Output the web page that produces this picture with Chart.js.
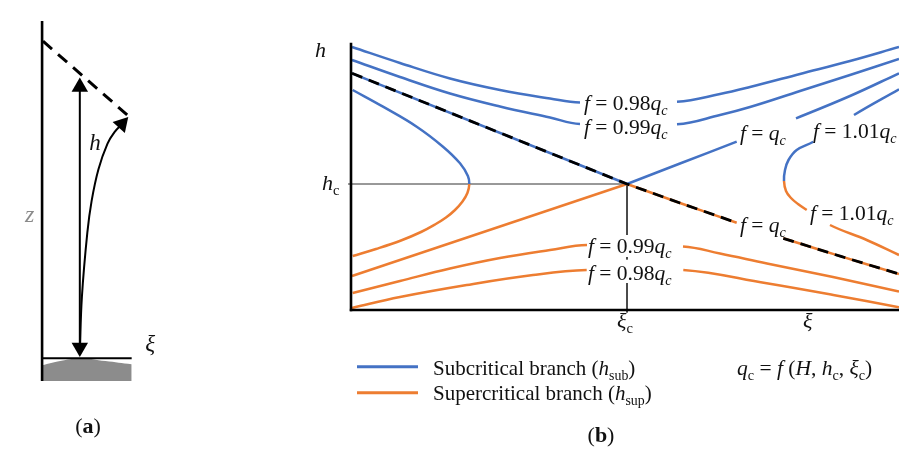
<!DOCTYPE html>
<html><head><meta charset="utf-8">
<script src="https://cdn.jsdelivr.net/npm/chart.js@4.4.1/dist/chart.umd.min.js"></script>
<style>
html,body{margin:0;padding:0;background:#fff;}
#wrap{position:relative;width:899px;height:450px;background:#fff;}
canvas{position:absolute;left:0;top:0;}
</style></head><body>
<div id="wrap"><canvas id="b" width="899" height="450"></canvas><canvas id="a" width="200" height="450"></canvas></div>
<script>
// ---------- DATA (panel b: x = distance along ξ, y = depth h; arbitrary units) ----------
const HC = 126;            // critical depth h_c
const XIC = 276;           // critical position ξ_c
const sub098 = [[1,263],[49,247],[99,231.5],[149,220],[199,211.5],[229,207.5],[326,208.3],[369,216],[399,223],[449,236],[499,249],[548,263]];
const sub098Gaps = [5];
const sub099 = [[1,250],[49,233],[99,216.5],[149,203.5],[199,192.5],[229,186],[326,185.7],[369,195],[399,203],[449,219],[499,235],[548,251]];
const sub099Gaps = [5];
const subCritA = [[1,236.7],[276,126]];
const subCritB = [[276,126],[329,146.5],[385.7,168.3],[445,191.7],[499,214],[548,236.7]];
const subCritBGaps = [2];
const supCritA = [[1,34],[276,126]];
const supCritB = [[276,126],[329,107],[385.7,87.3],[432.3,71.7],[490,53.6],[548,36]];
const supCritBGaps = [2];
const critDash = [[1,236.7],[276,126],[329,107],[385.7,87.3],[432.3,71.7],[490,53.6],[548,36]];
const critDashGaps = [3];
const left101 = [[1.7,220],[32,203.3],[65.7,183.3],[92,163.3],[109,146.7],[116.9,134],[118.3,126],[116.4,117],[111.5,108.5],[104,100],[95,92.5],[84,85.5],[70,78],[50,69.5],[25,61],[1.7,54]];
const left101Nose = 126;
const right101 = [[548,220.7],[503,195],[462.3,168.3],[445.7,160],[437.5,150],[434,140],[433,129],[435,119],[440,112],[447,106],[455.7,100],[479,85],[515.7,70],[548,55]];
const right101Gaps = [1,10];
const right101Nose = 129;
const sup099 = [[1.7,17],[49,29],[99,41.5],[149,52],[199,60],[236,65],[332,63.5],[369,56.5],[416,46.5],[482,33],[548,18.5]];
const sup099Gaps = [5];
const sup098 = [[1,2],[49,13],[115.7,25],[182,35],[235.7,40],[332.3,40],[415.7,26.7],[482.3,15],[548,2.7]];
const sup098Gaps = [4];

// panel (a) data: x = horizontal, y = height z above bed line
const bedProfile = [[0,-7.5],[20,-3],[42,0],[70,-3],[99,-6.5]];
const surfaceDash = [[1,331],[94,254]];
const depthArrow = [[41.7,283],[41.7,11]];
const profileCurve = [[41.7,5],[44,64],[50,131],[54.7,164],[62.3,197.3],[72.3,224],[80,236],[88.2,244.4]];
const arrowHeads = [[41.7,283,0],[41.7,11,180],[88.2,244.4,42]];

const BLUE = '#4472C4', ORANGE = '#ED7D31';
const FONT = '"Liberation Serif","Times New Roman",serif';

const fq = (r) => r === null ? [['f','i'],[' = '],['q','i'],['c','is']] : [['f','i'],[' = ' + r],['q','i'],['c','is']];
const curveLabels = [
  {x:233, y:200, parts:fq('0.98'), size:21.5},
  {x:233, y:176, parts:fq('0.99'), size:21.5},
  {x:389, y:170, parts:fq(null), size:21.5},
  {x:462, y:172, parts:fq('1.01'), size:21.5},
  {x:459, y:90.5, parts:fq('1.01'), size:21.5},
  {x:389, y:78.5, parts:fq(null), size:21.5},
  {x:237, y:57, parts:fq('0.99'), size:21.5},
  {x:237, y:30, parts:fq('0.98'), size:21.5}
];
const axisLabels = [
  {x:-36, y:253.3, parts:[['h','i']], size:22},
  {x:-29, y:120, parts:[['h','i'],['c','s']], size:22},
  {x:266, y:-18, parts:[['ξ','i'],['c','s']], size:22},
  {x:452, y:-18, parts:[['ξ','i']], size:22},
  {x:82, y:-65, parts:[['Subcritical branch ('],['h','i'],['sub','s'],[')']], size:21},
  {x:82, y:-90, parts:[['Supercritical branch ('],['h','i'],['sup','s'],[')']], size:21},
  {x:386, y:-65, parts:[['q','i'],['c','s'],[' = '],['f','i'],[' ('],['H','i'],[', '],['h','i'],['c','s'],[', '],['ξ','i'],['c','s'],[')']], size:21.5},
  {x:250, y:-131.7, parts:[['('],['b','b'],[')']], size:22, align:'center'}
];
const labelsA = [
  {x:52, y:217, parts:[['h','i']], size:23},
  {x:-19, y:142, parts:[['z','i']], size:24, color:'#8a8a8a'},
  {x:114, y:7, parts:[['ξ','i']], size:23},
  {x:50.7, y:-77.7, parts:[['('],['a','b'],[')']], size:22, align:'center'}
];

// ---------- helpers ----------
const pts = a => a.map(([x,y]) => ({x, y}));
function drawRich(ctx, x, y, parts, size, align, color) {
  const fontOf = st => (st.includes('i') ? 'italic ' : '') + (st.includes('b') ? 'bold ' : '') + (st.includes('s') ? size*0.66 : size) + 'px ' + FONT;
  let w = 0;
  parts.forEach(([t, st='']) => { ctx.font = fontOf(st); w += ctx.measureText(t).width; });
  let cx = align === 'center' ? x - w/2 : x;
  ctx.textAlign = 'left'; ctx.textBaseline = 'alphabetic';
  parts.forEach(([t, st='']) => {
    ctx.font = fontOf(st); ctx.fillStyle = color || '#111';
    ctx.fillText(t, cx, st.includes('s') ? y + size*0.24 : y);
    cx += ctx.measureText(t).width;
  });
}
const textPlugin = (labels) => ({
  id:'txt',
  afterDatasetsDraw(chart) {
    const ctx = chart.ctx, xs = chart.scales.x, ys = chart.scales.y;
    ctx.save();
    labels.forEach(l => drawRich(ctx, xs.getPixelForValue(l.x), ys.getPixelForValue(l.y), l.parts, l.size, l.align, l.color));
    ctx.restore();
  }
});
function line(data, color, width, o = {}) {
  const gaps = o.gaps || [], split = o.split;
  return Object.assign({
    data: pts(data), showLine:true, borderColor:color, borderWidth:width, pointRadius:0, clip:false,
    tension: o.tension !== undefined ? o.tension : 0.4, order: o.order !== undefined ? o.order : 5,
    segment: { borderColor: ctx => {
      if (gaps.includes(ctx.p0DataIndex)) return 'rgba(0,0,0,0)';
      if (split !== undefined) return Math.min(ctx.p0.parsed.y, ctx.p1.parsed.y) >= split - 0.01 ? BLUE : ORANGE;
      return undefined;
    } }
  }, o.extra || {});
}
const baseOpts = (padding, xr, yr) => ({
  responsive:false, animation:false, events:[],
  layout:{padding},
  scales:{ x:{type:'linear', min:xr[0], max:xr[1], display:false}, y:{type:'linear', min:yr[0], max:yr[1], display:false} },
  plugins:{ legend:{display:false}, tooltip:{enabled:false} },
  elements:{ point:{radius:0}, line:{borderCapStyle:'butt'} }
});

// ---------- panel (b) ----------
new Chart(document.getElementById('b'), {
  type:'scatter',
  data:{ datasets:[
    line(critDash, '#000', 2.8, {gaps:critDashGaps, tension:0, order:0, extra:{borderDash:[11,7]}}),
    line(sub098, BLUE, 2.5, {gaps:sub098Gaps}),
    line(sub099, BLUE, 2.5, {gaps:sub099Gaps}),
    line(subCritA, BLUE, 2.5, {tension:0}),
    line(subCritB, BLUE, 2.5, {gaps:subCritBGaps}),
    line(supCritA, ORANGE, 2.5, {tension:0}),
    line(supCritB, ORANGE, 2.5, {gaps:supCritBGaps}),
    line(left101, BLUE, 2.5, {split:left101Nose}),
    line(right101, BLUE, 2.5, {gaps:right101Gaps, split:right101Nose}),
    line(sup099, ORANGE, 2.5, {gaps:sup099Gaps}),
    line(sup098, ORANGE, 2.5, {gaps:sup098Gaps}),
    line([[-3,HC],[XIC,HC]], '#333', 1, {tension:0, order:8}),
    line([[XIC,HC],[XIC,75],[XIC,53],[XIC,50.5],[XIC,27],[XIC,-2.5]], '#333', 1, {gaps:[1,3], tension:0, order:8}),
    line([[0,267.3],[0,-1.2]], '#000', 2.6, {tension:0, order:1}),
    line([[-1.2,0],[548,0]], '#000', 2.6, {tension:0, order:1}),
    line([[6,-56.7],[67,-56.7]], BLUE, 3, {tension:0}),
    line([[6,-82.7],[67,-82.7]], ORANGE, 3, {tension:0})
  ]},
  options: baseOpts({left:351, right:0, top:40, bottom:140}, [0,548], [0,270]),
  plugins:[textPlugin(curveLabels.concat(axisLabels))]
});

// ---------- panel (a) ----------
new Chart(document.getElementById('a'), {
  type:'scatter',
  data:{ datasets:[
    line([[0,352],[0,-24]], '#000', 2.6, {tension:0, order:1}),
    line([[0,0],[99,0]], '#000', 2, {tension:0, order:1}),
    line(bedProfile, 'rgba(0,0,0,0)', 0, {order:9, extra:{fill:{value:-24}, backgroundColor:'#8c8c8c'}}),
    line(surfaceDash, '#000', 3, {tension:0, extra:{borderDash:[12,8]}}),
    line(depthArrow, '#000', 2, {tension:0}),
    line(profileCurve, '#000', 2, {}),
    { data: arrowHeads.map(([x,y]) => ({x,y})), showLine:false, pointStyle:'triangle', pointRadius:9.5,
      pointRotation: arrowHeads.map(a => a[2]), pointBackgroundColor:'#000', pointBorderColor:'#000', pointBorderWidth:0, clip:false, order:0 }
  ]},
  options: baseOpts({left:0, right:0, top:0, bottom:0}, [-36,164], [-86,364]),
  plugins:[textPlugin(labelsA)]
});
</script>
</body></html>
